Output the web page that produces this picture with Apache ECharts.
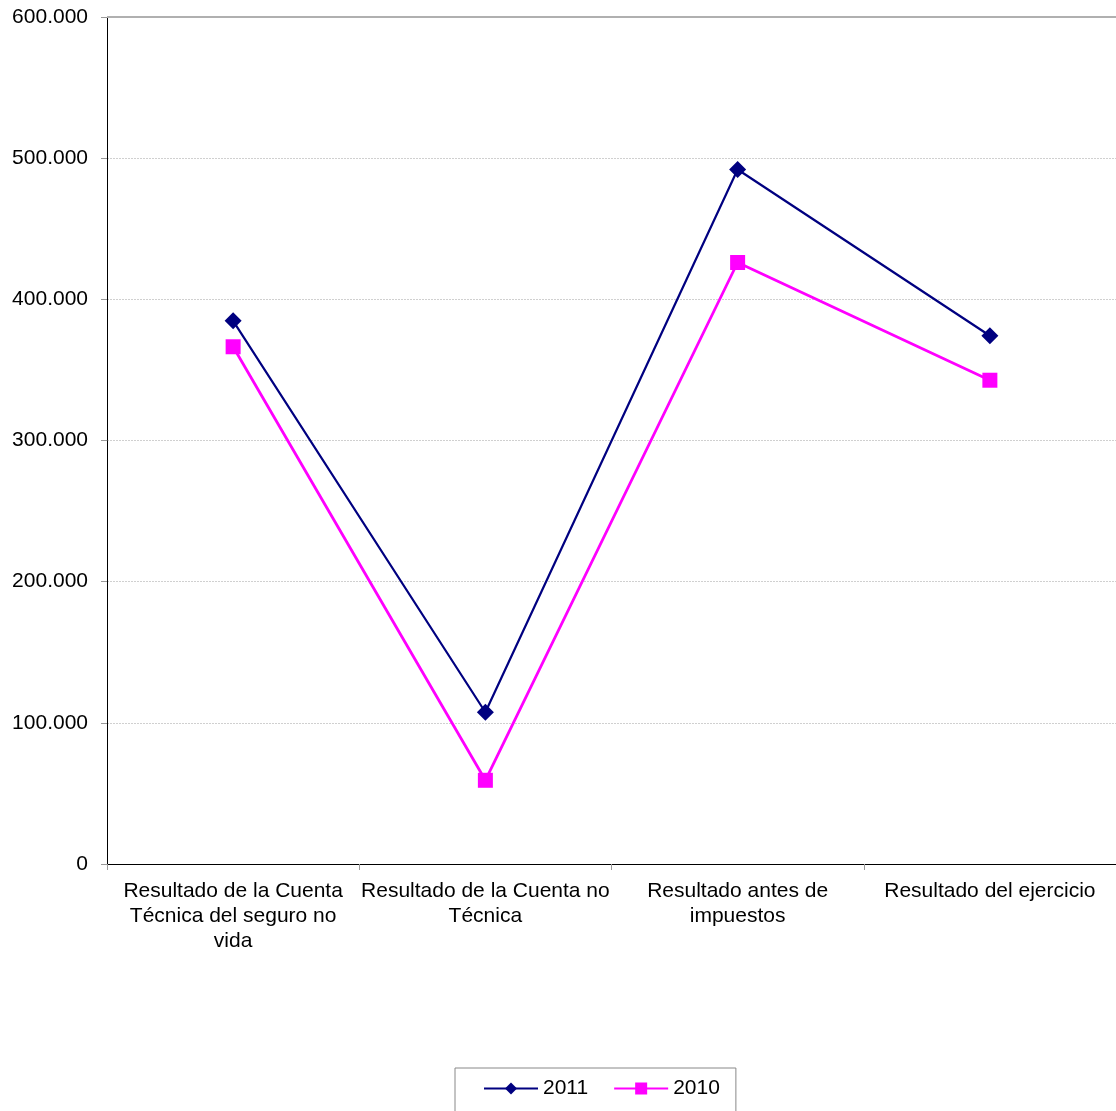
<!DOCTYPE html>
<html><head><meta charset="utf-8">
<script src="https://cdn.jsdelivr.net/npm/echarts@6/dist/echarts.min.js"></script>
<style>html,body{margin:0;padding:0;background:#fff}#c{width:1116px;height:1111px}</style>
</head><body><div id="c"></div>
<script>
const categories = [
  "Resultado de la Cuenta\nTécnica del seguro no\nvida",
  "Resultado de la Cuenta no\nTécnica",
  "Resultado antes de\nimpuestos",
  "Resultado del ejercicio"
];
const values2011 = [384800, 107500, 492000, 374200];
const values2010 = [366400, 59300, 426100, 342700];
const seriesNames = ["2011", "2010"];
const yMax = 600000;

const chart = echarts.init(document.getElementById('c'), null, {renderer: 'canvas'});
const font = '"Liberation Sans", Arial, sans-serif';
chart.setOption({
  animation: false,
  textStyle: {fontFamily: font},
  grid: {left: 107, right: 0, top: 17, bottom: 247, containLabel: false},
  xAxis: {
    type: 'category',
    data: categories,
    boundaryGap: true,
    axisLine: {lineStyle: {color: '#000', width: 1}},
    axisTick: {show: true, length: 6, lineStyle: {color: '#999'}},
    axisLabel: {color: '#000', fontSize: 21, fontFamily: font, lineHeight: 25, margin: 15, interval: 0}
  },
  yAxis: {
    type: 'value',
    min: 0, max: yMax, interval: 100000,
    axisLine: {show: true, lineStyle: {color: '#000', width: 1}},
    axisTick: {show: true, length: 6, lineStyle: {color: '#999'}},
    axisLabel: {color: '#000', fontSize: 21, fontFamily: font, margin: 19,
      formatter: v => v === 0 ? '0' : (v/1000).toFixed(0) + '.000'},
    splitLine: {show: true, lineStyle: {color: '#d0d0d0', width: 1, type: [2, 1]}}
  },
  legend: {
    left: 455, top: 1068,
    padding: [10, 16, 14, 28],
    borderColor: '#888', borderWidth: 1,
    itemWidth: 54, itemHeight: 15, itemGap: 25,
    textStyle: {color: '#000', fontSize: 21, fontFamily: font},
    data: seriesNames
  },
  series: [
    {name: seriesNames[0], type: 'line', data: values2011,
     color: '#000080', symbol: 'diamond', symbolSize: 17,
     lineStyle: {color: '#000080', width: 2.2}, itemStyle: {color: '#000080'},
     markLine: {silent: true, symbol: 'none', label: {show: false},
       lineStyle: {color: '#b0b0b0', type: 'solid', width: 2}, data: [{yAxis: yMax}]}},
    {name: seriesNames[1], type: 'line', data: values2010,
     color: '#ff00ff', symbol: 'rect', symbolSize: 15,
     lineStyle: {color: '#ff00ff', width: 2.8}, itemStyle: {color: '#ff00ff'}}
  ]
});
</script></body></html>
